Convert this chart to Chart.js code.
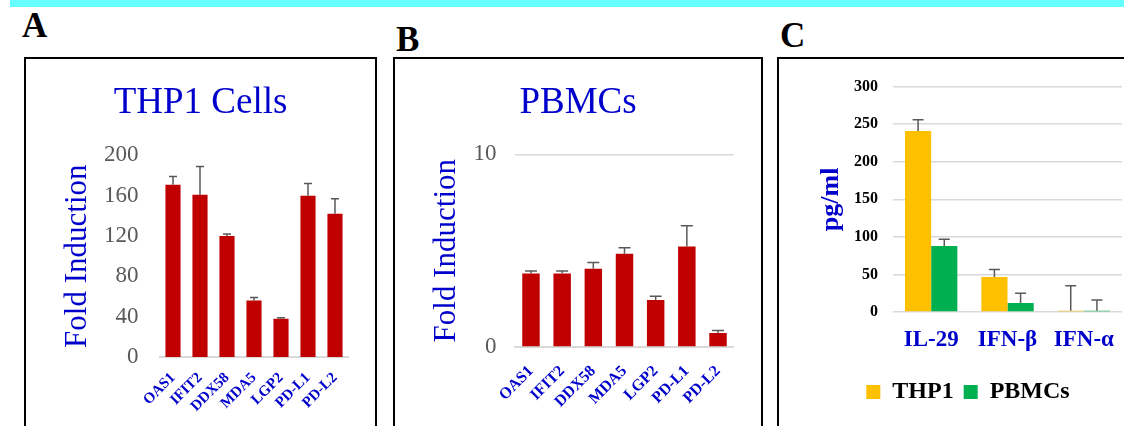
<!DOCTYPE html>
<html>
<head>
<meta charset="utf-8">
<script src="https://cdn.jsdelivr.net/npm/chart.js@4.4.1/dist/chart.umd.min.js"></script>
<style>
  html, body { margin: 0; padding: 0; background: #fff; }
  body { width: 1124px; height: 426px; position: relative; overflow: hidden; }
  .topbar { position: absolute; left: 10px; top: 0; width: 1114px; height: 7px; background: #66FFFF; }
  .tag { position: absolute; font: bold 35px 'Liberation Serif', serif; line-height: 35px; color: #000; }
  .box { position: absolute; top: 57px; height: 400px; border: 2px solid #000; box-sizing: border-box; }
  .wrap { position: absolute; top: 59px; height: 367px; }
</style>
</head>
<body>
<div class="topbar"></div>

<div class="tag" style="left:22px; top:8px;">A</div>
<div class="tag" style="left:396px; top:22px;">B</div>
<div class="tag" style="left:780px; top:18px;">C</div>

<div class="box" style="left:24px; width:353px;"></div>
<div class="box" style="left:393px; width:370px;"></div>
<div class="box" style="left:777px; width:400px;"></div>

<div class="wrap" style="left:26px; width:349px;"><canvas id="chartA"></canvas></div>
<div class="wrap" style="left:395px; width:366px;"><canvas id="chartB"></canvas></div>
<div class="wrap" style="left:779px; width:345px;"><canvas id="chartC"></canvas></div>

<script>
// ---- data ----
const genes = ['OAS1', 'IFIT2', 'DDX58', 'MDA5', 'LGP2', 'PD-L1', 'PD-L2'];

const thp1Fold    = [171, 161, 120, 56, 38, 160, 142];
const thp1FoldErr = [8, 28, 2, 3, 1, 12, 15];

const pbmcFold    = [3.82, 3.82, 4.06, 4.84, 2.44, 5.22, 0.73];
const pbmcFoldErr = [0.13, 0.13, 0.33, 0.31, 0.19, 1.07, 0.13];

const cytokines = ['IL-29', 'IFN-β', 'IFN-α'];
const thp1Pg    = [241, 46.5, 1.5];
const thp1PgErr = [15, 10, 33.5];
const pbmcPg    = [88, 12, 1.5];
const pbmcPgErr = [9, 13, 14.5];

const SERIF = "'Liberation Serif', 'Times New Roman', serif";
const BLUE = '#0000CC';
const RED = '#C00000';
const GRID = '#D9D9D9';
const GREY_TEXT = '#595959';

// upward-only error bars, positioned through the y scale
const errorBars = {
  id: 'errorBars',
  afterDatasetsDraw(chart, args, opts) {
    const { ctx } = chart;
    const y = chart.scales.y;
    ctx.save();
    ctx.strokeStyle = '#595959';
    ctx.lineWidth = 1.5;
    chart.data.datasets.forEach((ds, di) => {
      const meta = chart.getDatasetMeta(di);
      meta.data.forEach((bar, i) => {
        const top = y.getPixelForValue(ds.data[i] + ds.errors[i]);
        ctx.beginPath();
        ctx.moveTo(bar.x, bar.y);
        ctx.lineTo(bar.x, top);
        ctx.moveTo(bar.x - opts.cap / 2, top);
        ctx.lineTo(bar.x + opts.cap / 2, top);
        ctx.stroke();
      });
    });
    ctx.restore();
  }
};

/**
 * Fold-induction panel (A and B share the same look)
 */
function foldChart(id, title, values, errs, s) {
  return new Chart(document.getElementById(id), {
    type: 'bar',
    data: {
      labels: genes,
      datasets: [{
        data: values,
        errors: errs,
        backgroundColor: RED,
        barPercentage: s.barPct,
        categoryPercentage: 1.0,
      }],
    },
    plugins: [errorBars],
    options: {
      responsive: true,
      maintainAspectRatio: false,
      animation: false,
      layout: { padding: 0 },
      plugins: {
        legend: { display: false },
        tooltip: { enabled: false },
        errorBars: { cap: s.cap },
        title: {
          display: true,
          text: title,
          color: BLUE,
          font: { family: SERIF, size: 37, weight: 'normal' },
          padding: { top: 22, bottom: s.titleBottom },
        },
      },
      scales: {
        x: {
          grid: { display: false },
          border: { display: true, color: GRID, width: 2 },
          ticks: {
            color: BLUE,
            font: { family: SERIF, size: s.labelSize, weight: 'bold' },
            maxRotation: 45,
            minRotation: 45,
            autoSkip: false,
            padding: s.labelPad,
          },
          afterFit: (scale) => { scale.height = s.xHeight; },
        },
        y: {
          min: 0,
          max: s.max,
          grid: { display: s.grid, color: GRID, lineWidth: 1.5, drawTicks: false },
          border: { display: false },
          ticks: {
            stepSize: s.step,
            color: GREY_TEXT,
            font: { family: SERIF, size: 23 },
            padding: s.tickPad,
          },
          title: {
            display: true,
            text: 'Fold Induction',
            color: BLUE,
            font: { family: SERIF, size: 31, weight: 'normal' },
            padding: { top: 33, bottom: 0 },
          },
          afterFit: (scale) => { scale.width = s.yWidth; },
        },
        // empty right-hand spacer so the title stays centred in the frame
        spacer: {
          type: 'linear',
          position: 'right',
          grid: { display: false },
          border: { display: false },
          ticks: { display: false },
          afterFit: (scale) => { scale.width = s.padRight; },
        },
      },
    },
  });
}

foldChart('chartA', 'THP1 Cells', thp1Fold, thp1FoldErr, {
  max: 200, step: 40, grid: false, barPct: 0.56, cap: 8,
  padRight: 26.5, yWidth: 133.5, xHeight: 69, titleBottom: 30, tickPad: 21,
  labelSize: 15, labelPad: 4,
});

foldChart('chartB', 'PBMCs', pbmcFold, pbmcFoldErr, {
  max: 10, step: 10, grid: true, barPct: 0.56, cap: 12,
  padRight: 27.4, yWidth: 120.4, xHeight: 79, titleBottom: 29, tickPad: 19,
  labelSize: 16, labelPad: 7,
});

// ---- panel C: cytokine secretion ----
new Chart(document.getElementById('chartC'), {
  type: 'bar',
  data: {
    labels: cytokines,
    datasets: [
      { label: 'THP1', data: thp1Pg, errors: thp1PgErr, backgroundColor: '#FFC000',
        barPercentage: 1.0, categoryPercentage: 0.686 },
      { label: 'PBMCs', data: pbmcPg, errors: pbmcPgErr, backgroundColor: '#00B050',
        barPercentage: 1.0, categoryPercentage: 0.686 },
    ],
  },
  plugins: [errorBars],
  options: {
    responsive: true,
    maintainAspectRatio: false,
    animation: false,
    layout: { padding: { left: 35, right: 2, top: 27.7, bottom: 12 } },
    plugins: {
      tooltip: { enabled: false },
      errorBars: { cap: 11 },
      legend: {
        position: 'bottom',
        labels: {
          boxWidth: 14,
          boxHeight: 14,
          color: '#000',
          padding: 10,
          font: { family: SERIF, size: 24, weight: 'bold' },
        },
      },
    },
    scales: {
      x: {
        grid: { display: false },
        border: { display: false },
        ticks: {
          color: BLUE,
          font: { family: SERIF, size: 23, weight: 'bold' },
          padding: 6,
        },
        afterFit: (scale) => { scale.height = 58; },
      },
      y: {
        min: 0,
        max: 300,
        grid: { color: GRID, lineWidth: 1.5, drawTicks: false },
        border: { display: false },
        ticks: {
          stepSize: 50,
          color: '#000',
          font: { family: SERIF, size: 16, weight: 'bold' },
          padding: 15,
        },
        title: {
          display: true,
          text: 'pg/ml',
          color: BLUE,
          font: { family: SERIF, size: 26, weight: 'bold' },
          padding: { top: 2, bottom: 0 },
        },
        afterFit: (scale) => { scale.width = 79; },
      },
    },
  },
});
</script>
</body>
</html>
